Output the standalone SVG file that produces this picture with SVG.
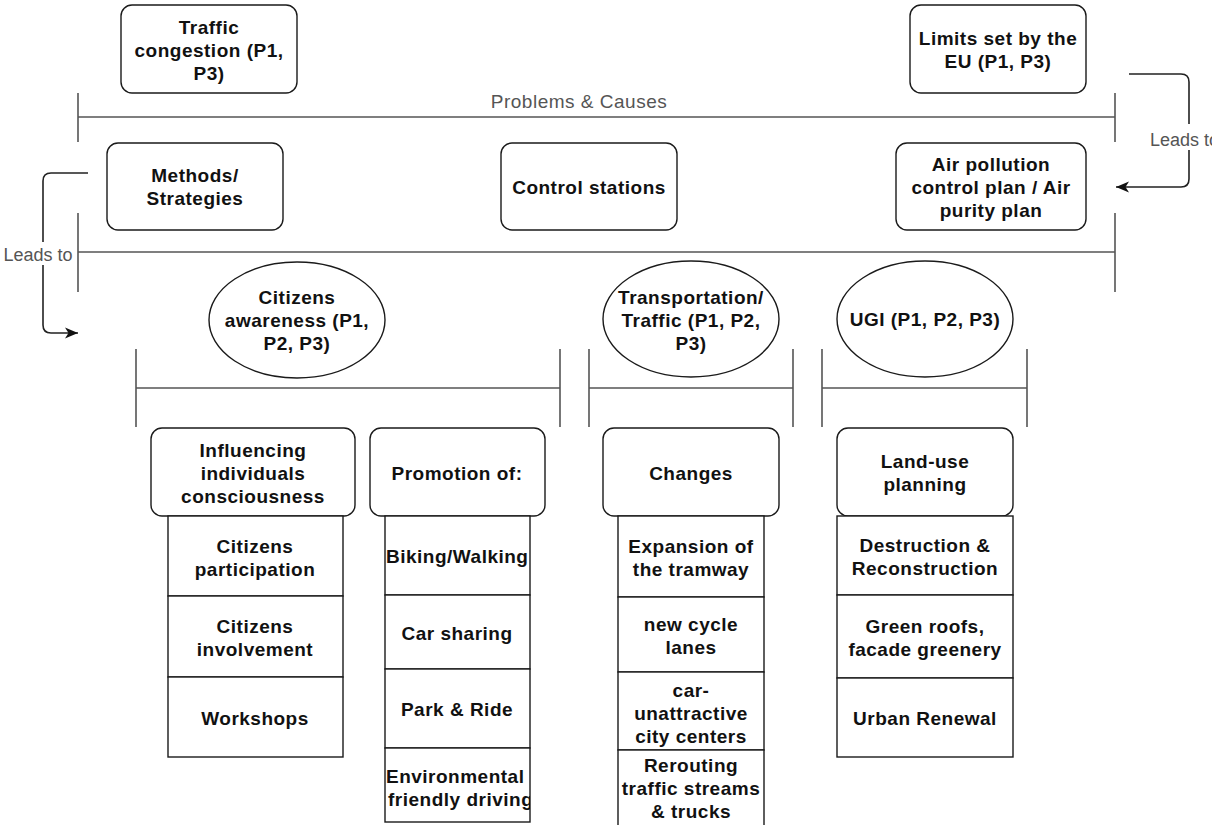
<svg xmlns="http://www.w3.org/2000/svg" width="1212" height="825" viewBox="0 0 1212 825">
<style>
.box{fill:#fff;stroke:#1a1a1a;stroke-width:1.4}
.t{font-family:"Liberation Sans",Arial,sans-serif;font-weight:bold;font-size:19px;letter-spacing:0.5px;fill:#111;text-anchor:middle}
.ts{text-anchor:start}
.lbl{font-family:"Liberation Sans",Arial,sans-serif;font-size:18px;fill:#555;text-anchor:middle}
.div{stroke:#555;stroke-width:1.6;fill:none}
.con{stroke:#222;stroke-width:1.6;fill:none}
</style>
<defs>
<marker id="arr" markerWidth="14" markerHeight="12" refX="13" refY="6" orient="auto" markerUnits="userSpaceOnUse"><path d="M0,0.5 L13,6 L0,11.5 L3.5,6 Z" fill="#111"/></marker>
<clipPath id="cpBike"><rect x="385" y="516" width="145" height="79"/></clipPath>
<clipPath id="cpEnv"><rect x="385" y="748" width="145" height="74"/></clipPath>
</defs>
<rect width="1212" height="825" fill="#fff"/>

<g id="dividers">
<path class="div" d="M78,117 H1115 M78,93 V142 M1115,93 V142"/>
<text class="lbl" x="579" y="108" style="font-size:19px;letter-spacing:0.5px">Problems &amp; Causes</text>
<path class="div" d="M78,252 H1115 M78,213 V292 M1115,213 V292"/>
<path class="div" d="M136,388 H560 M136,349 V427 M560,349 V427"/>
<path class="div" d="M589,388 H793 M589,349 V427 M793,349 V427"/>
<path class="div" d="M822,388 H1027 M822,349 V427 M1027,349 V427"/>
</g>

<g id="connectors">
<path class="con" d="M88,173 H51 Q43,173 43,181 V325 Q43,333 51,333 H78" marker-end="url(#arr)"/>
<rect x="3" y="242" width="72" height="23" fill="#fff"/>
<text class="lbl" x="38" y="261">Leads to</text>
<path class="con" d="M1129,74 H1181 Q1189,74 1189,82 V179 Q1189,187 1181,187 H1116" marker-end="url(#arr)"/>
<rect x="1148" y="124" width="64" height="26" fill="#fff"/>
<text class="lbl" x="1150" y="146" style="text-anchor:start">Leads to</text>
</g>

<g id="traffic-congestion">
<rect class="box" x="121" y="5" width="176" height="88" rx="11"/>
<text class="t" x="209" y="34">Traffic</text>
<text class="t" x="209" y="57">congestion (P1,</text>
<text class="t" x="209" y="80">P3)</text>
</g>

<g id="limits-eu">
<rect class="box" x="910" y="5" width="176" height="88" rx="11"/>
<text class="t" x="998" y="45">Limits set by the</text>
<text class="t" x="998" y="68">EU (P1, P3)</text>
</g>

<g id="methods">
<rect class="box" x="107" y="143" width="176" height="87" rx="11"/>
<text class="t" x="195" y="182">Methods/</text>
<text class="t" x="195" y="205">Strategies</text>
</g>

<g id="control-stations">
<rect class="box" x="501" y="143" width="176" height="87" rx="11"/>
<text class="t" x="589" y="194">Control stations</text>
</g>

<g id="air-plan">
<rect class="box" x="896" y="143" width="190" height="87" rx="11"/>
<text class="t" x="991" y="171">Air pollution</text>
<text class="t" x="991" y="194">control plan / Air</text>
<text class="t" x="991" y="217">purity plan</text>
</g>

<g id="citizens-awareness">
<ellipse class="box" cx="297" cy="320" rx="88" ry="58"/>
<text class="t" x="297" y="304">Citizens</text>
<text class="t" x="297" y="327">awareness (P1,</text>
<text class="t" x="297" y="350">P2, P3)</text>
</g>

<g id="transportation">
<ellipse class="box" cx="691" cy="319" rx="88" ry="58"/>
<text class="t" x="691" y="304">Transportation/</text>
<text class="t" x="691" y="327">Traffic (P1, P2,</text>
<text class="t" x="691" y="350">P3)</text>
</g>

<g id="ugi">
<ellipse class="box" cx="925" cy="319" rx="88" ry="58"/>
<text class="t" x="925" y="326">UGI (P1, P2, P3)</text>
</g>

<g id="influencing">
<rect class="box" x="151" y="428" width="204" height="88" rx="11"/>
<text class="t" x="253" y="457">Influencing</text>
<text class="t" x="253" y="480">individuals</text>
<text class="t" x="253" y="503">consciousness</text>
</g>
<g id="citizens-participation">
<rect class="box" x="168" y="516" width="175" height="80"/>
<text class="t" x="255" y="553">Citizens</text>
<text class="t" x="255" y="576">participation</text>
</g>
<g id="citizens-involvement">
<rect class="box" x="168" y="596" width="175" height="81"/>
<text class="t" x="255" y="633">Citizens</text>
<text class="t" x="255" y="656">involvement</text>
</g>
<g id="workshops">
<rect class="box" x="168" y="677" width="175" height="80"/>
<text class="t" x="255" y="725">Workshops</text>
</g>

<g id="promotion">
<rect class="box" x="370" y="428" width="175" height="88" rx="11"/>
<text class="t" x="457" y="480">Promotion of:</text>
</g>
<g id="biking-walking">
<rect class="box" x="385" y="516" width="145" height="79"/>
<text class="t" x="386" y="563" clip-path="url(#cpBike)" style="text-anchor:start">Biking/Walking</text>
</g>
<g id="car-sharing">
<rect class="box" x="385" y="595" width="145" height="74"/>
<text class="t" x="457" y="640">Car sharing</text>
</g>
<g id="park-ride">
<rect class="box" x="385" y="669" width="145" height="79"/>
<text class="t" x="457" y="716">Park &amp; Ride</text>
</g>
<g id="env-driving">
<rect class="box" x="385" y="748" width="145" height="74"/>
<g clip-path="url(#cpEnv)">
<text class="t" x="386" y="783" style="text-anchor:start">Environmental</text>
<text class="t" x="388" y="806" style="text-anchor:start">friendly driving</text>
</g>
</g>

<g id="changes">
<rect class="box" x="603" y="428" width="176" height="88" rx="11"/>
<text class="t" x="691" y="480">Changes</text>
</g>
<g id="tramway">
<rect class="box" x="618" y="516" width="146" height="81"/>
<text class="t" x="691" y="553">Expansion of</text>
<text class="t" x="691" y="576">the tramway</text>
</g>
<g id="cycle-lanes">
<rect class="box" x="618" y="597" width="146" height="75"/>
<text class="t" x="691" y="631">new cycle</text>
<text class="t" x="691" y="654">lanes</text>
</g>
<g id="car-unattractive">
<rect class="box" x="618" y="672" width="146" height="78"/>
<text class="t" x="691" y="697">car-</text>
<text class="t" x="691" y="720">unattractive</text>
<text class="t" x="691" y="743">city centers</text>
</g>
<g id="rerouting">
<rect class="box" x="618" y="750" width="146" height="85"/>
<text class="t" x="691" y="772">Rerouting</text>
<text class="t" x="691" y="795">traffic streams</text>
<text class="t" x="691" y="818">&amp; trucks</text>
</g>

<g id="land-use">
<rect class="box" x="837" y="428" width="176" height="88" rx="11"/>
<text class="t" x="925" y="468">Land-use</text>
<text class="t" x="925" y="491">planning</text>
</g>
<g id="destruction">
<rect class="box" x="837" y="516" width="176" height="79"/>
<text class="t" x="925" y="552">Destruction &amp;</text>
<text class="t" x="925" y="575">Reconstruction</text>
</g>
<g id="green-roofs">
<rect class="box" x="837" y="595" width="176" height="83"/>
<text class="t" x="925" y="633">Green roofs,</text>
<text class="t" x="925" y="656">facade greenery</text>
</g>
<g id="urban-renewal">
<rect class="box" x="837" y="678" width="176" height="79"/>
<text class="t" x="925" y="725">Urban Renewal</text>
</g>
</svg>
